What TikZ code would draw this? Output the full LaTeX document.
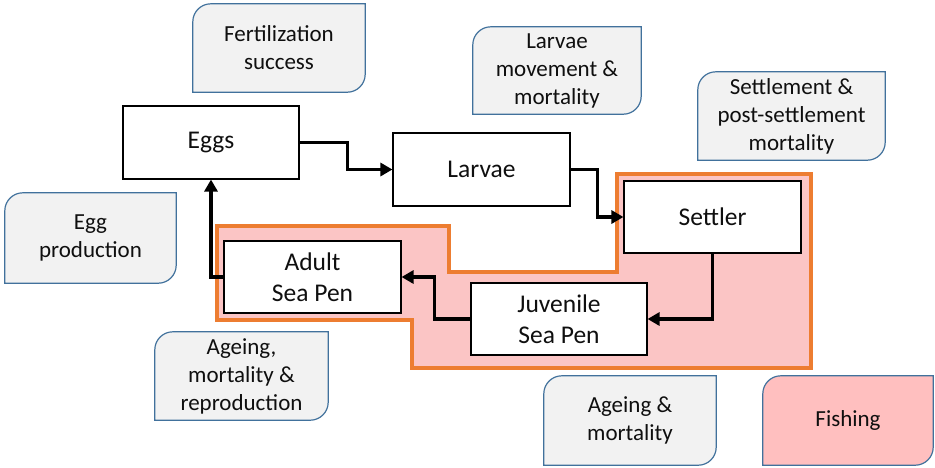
\documentclass[tikz,border=0pt]{standalone}
\usepackage{fontspec}
\setmainfont{Carlito}
\usetikzlibrary{arrows.meta}
\definecolor{gfill}{RGB}{242,242,242}
\definecolor{gline}{RGB}{65,113,156}
\definecolor{orng}{RGB}{237,125,49}
\definecolor{pinkf}{RGB}{251,197,197}
\definecolor{fishf}{RGB}{255,191,191}
\definecolor{txt}{RGB}{15,15,15}
\pgfdeclarelayer{bg}
\pgfsetlayers{bg,main}
\newcommand\gbx[2]{%
  \draw[#2] (#1.south west) -- ([yshift=-18pt]#1.north west)
    arc[start angle=180,end angle=90,radius=18pt] -- (#1.north east)
    -- ([yshift=18pt]#1.south east)
    arc[start angle=0,end angle=-90,radius=18pt] -- cycle;}
\begin{document}
\begin{tikzpicture}[x=1pt,y=1pt,
  wbox/.style={draw=black,line width=1.1pt,fill=white,align=center,inner sep=0pt,
    font=\fontsize{25.5}{31.5}\selectfont,text=txt},
  gtext/.style={align=center,inner sep=0pt,font=\fontsize{23}{28}\selectfont,text=txt},
  gshape/.style={draw=gline,line width=1.2pt,fill=gfill},
  fshape/.style={draw=gline,line width=1.2pt,fill=fishf},
  arr/.style={line width=3.5pt,-{Triangle[length=12pt,width=13pt]}},
  zone/.style={draw=orng,line width=3.5pt,fill=pinkf,line join=miter}]
\useasboundingbox (0,0) rectangle (935,-467);
% highlighted zone
\draw[zone] (217,-226) -- (449,-226) -- (449,-272) -- (617,-272) -- (617,-174)
  -- (811,-174) -- (811,-368) -- (412,-368) -- (412,-320) -- (217,-320) -- cycle;
% white boxes
\node[wbox,minimum width=176pt,minimum height=73pt] (eggs) at (211,-142.5) {Eggs};
\node[wbox,minimum width=177pt,minimum height=73pt] (larvae) at (481.5,-169.5) {Larvae};
\node[wbox,minimum width=177pt,minimum height=72pt] (settler) at (712.5,-217) {Settler};
\node[wbox,minimum width=177pt,minimum height=72pt] (adult) at (312.5,-277) {Adult\\Sea Pen};
\node[wbox,minimum width=176pt,minimum height=72pt] (juv) at (559,-319) {Juvenile\\Sea Pen};
% grey boxes
\node[gtext,minimum width=172pt,minimum height=88pt] (fert) at (279,-48) {Fertilization\\success};
\node[gtext,minimum width=168pt,minimum height=87pt] (larvmv) at (557,-70.5) {Larvae\\movement \&\\mortality};
\node[gtext,minimum width=187pt,minimum height=88pt] (settl) at (791.5,-116) {Settlement \&\\post-settlement\\mortality};
\node[gtext,minimum width=171pt,minimum height=90pt] (eggprod) at (90.5,-238) {Egg\\production};
\node[gtext,minimum width=173pt,minimum height=88pt] (ageing) at (241.5,-376) {Ageing,\\mortality \&\\reproduction};
\node[gtext,minimum width=172pt,minimum height=89pt] (ageing2) at (630,-420.5) {Ageing \&\\mortality};
\node[gtext,minimum width=170pt,minimum height=89pt] (fishing) at (848,-420.5) {Fishing};
\begin{pgfonlayer}{bg}
\gbx{fert}{gshape}
\gbx{larvmv}{gshape}
\gbx{settl}{gshape}
\gbx{eggprod}{gshape}
\gbx{ageing}{gshape}
\gbx{ageing2}{gshape}
\gbx{fishing}{fshape}
\end{pgfonlayer}
% connectors
\draw[arr] (eggs.east) -- ++(48,0) |- (larvae.west);
\draw[arr] (larvae.east) -- ++(27,0) |- (settler.west);
\draw[arr] (settler.south) |- (juv.east);
\draw[arr] (juv.west) -- ++(-36,0) |- (adult.east);
\draw[arr] (adult.west) -| (eggs.south);
\end{tikzpicture}
\end{document}
